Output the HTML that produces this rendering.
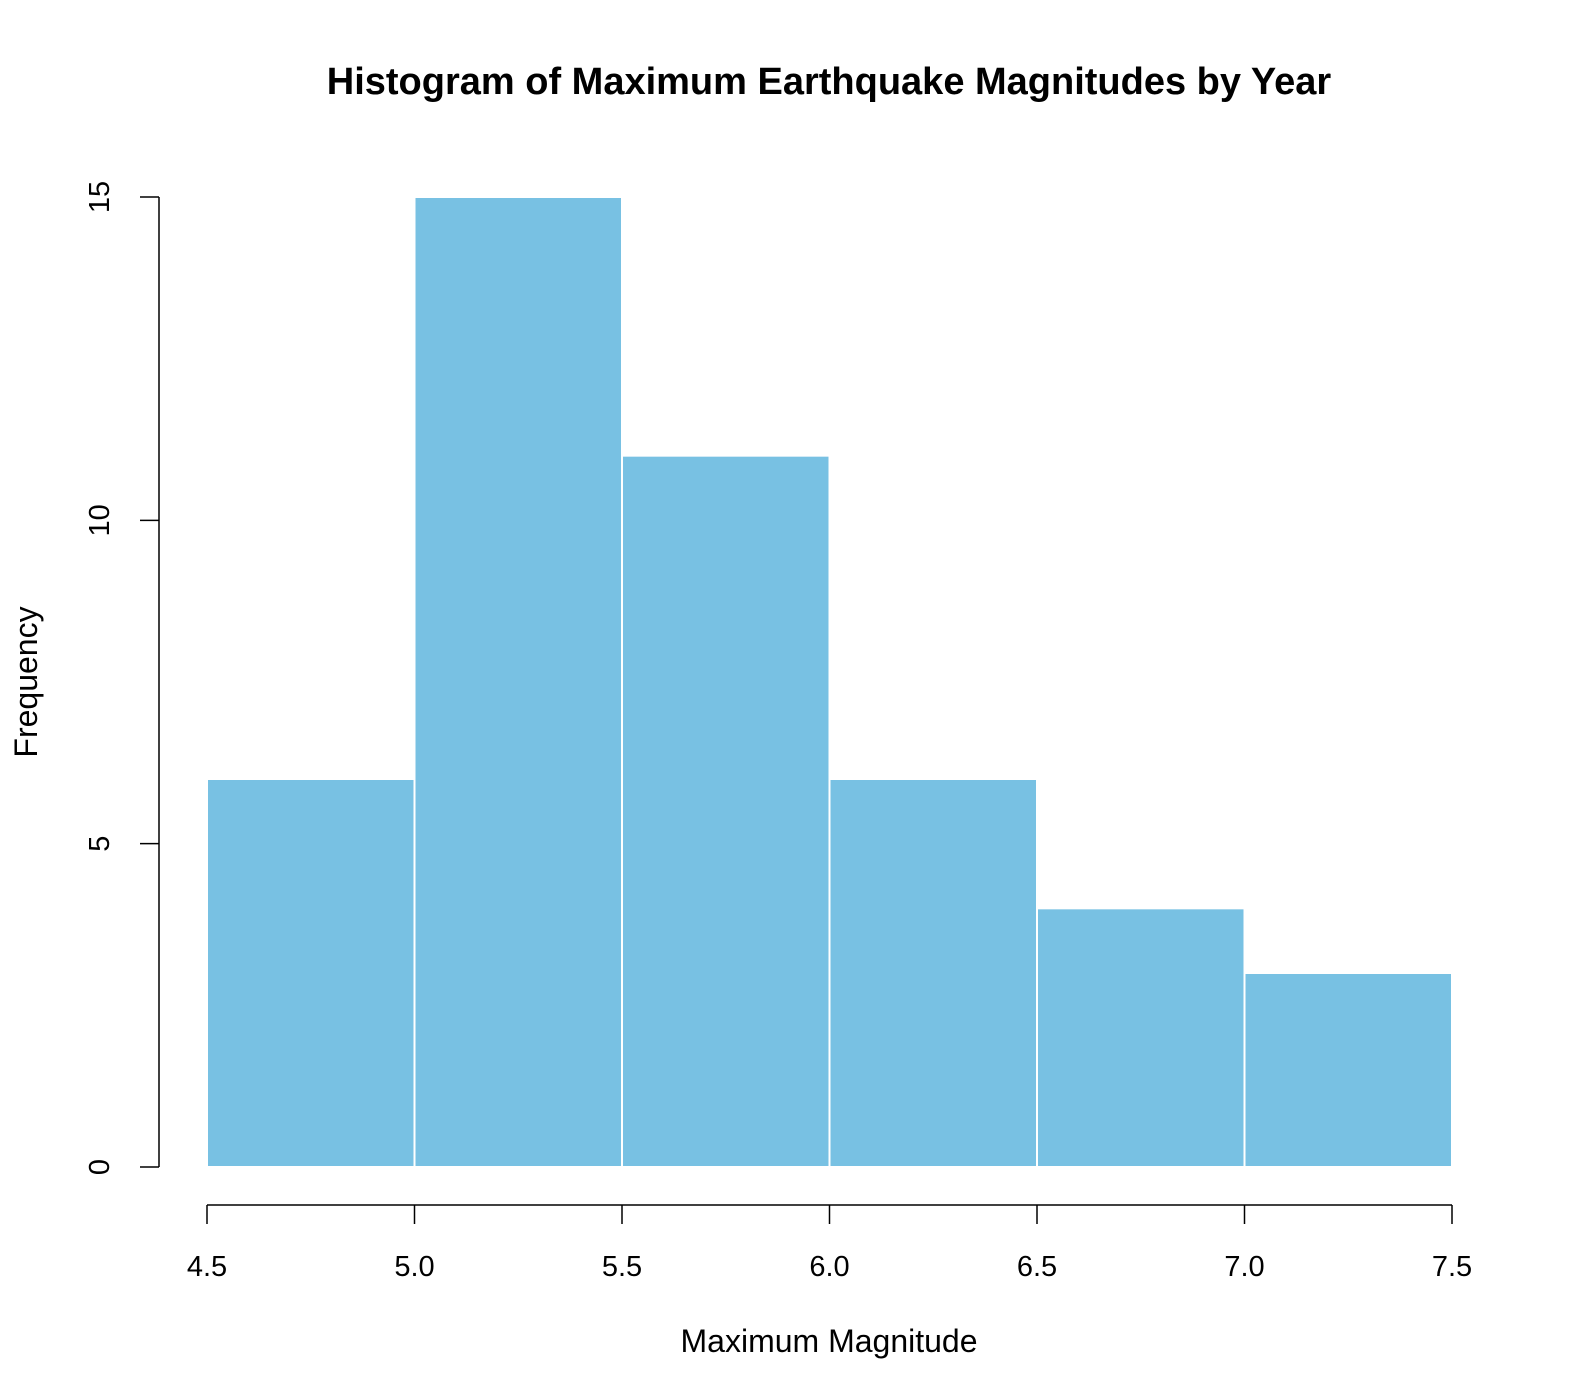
<!DOCTYPE html>
<html><head><meta charset="utf-8"><style>
html,body{margin:0;padding:0;background:#fff;}
svg{display:block;font-family:"Liberation Sans",Arial,sans-serif;}
</style></head><body>
<svg id="chart" width="1582" height="1400">
<text x="829" y="94" text-anchor="middle" font-size="38" font-weight="bold">Histogram of Maximum Earthquake Magnitudes by Year</text>
<text x="829" y="1352" text-anchor="middle" font-size="32">Maximum Magnitude</text>
<text transform="translate(37,682) rotate(-90)" text-anchor="middle" font-size="32">Frequency</text>
<g id="bars"></g><g id="xaxis"></g><g id="yaxis"></g>
</svg>
<script>
const binEdges = [4.5, 5.0, 5.5, 6.0, 6.5, 7.0, 7.5];
const counts = [6, 15, 11, 6, 4, 3];
const xTicks = [4.5, 5.0, 5.5, 6.0, 6.5, 7.0, 7.5];
const xTickLabels = ["4.5", "5.0", "5.5", "6.0", "6.5", "7.0", "7.5"];
const yTicks = [0, 5, 10, 15];
const yTickLabels = ["0", "5", "10", "15"];

const NS = "http://www.w3.org/2000/svg";
function xs(v){ return 207 + (v - 4.5) * (1452 - 207) / 3; }
function ys(v){ return 1167 - v * (1167 - 197) / 15; }
function mk(tag, attrs, parent){ const e = document.createElementNS(NS, tag); for (const k in attrs) e.setAttribute(k, attrs[k]); parent.appendChild(e); return e; }

const bars = document.getElementById('bars');
counts.forEach((c, i) => {
  const x0 = xs(binEdges[i]), x1 = xs(binEdges[i+1]);
  const r = mk('rect', {x: x0, y: ys(c), width: x1 - x0, height: ys(0) - ys(c), fill: '#78c1e3', stroke: '#ffffff', 'stroke-width': 2}, bars);
  
  
});

const xa = document.getElementById('xaxis');


mk('line', {x1: xs(xTicks[0]), x2: xs(xTicks[xTicks.length-1]), y1: 1205, y2: 1205, stroke: '#000', 'stroke-width': 1.5}, xa);
xTicks.forEach((t, i) => {
  mk('line', {x1: xs(t), x2: xs(t), y1: 1205, y2: 1224, stroke: '#000', 'stroke-width': 1.5}, xa);
  const tx = mk('text', {x: xs(t), y: 1276, 'text-anchor': 'middle', 'font-size': 29}, xa);
  tx.textContent = xTickLabels[i];
  
  
});

const ya = document.getElementById('yaxis');


mk('line', {x1: 159, x2: 159, y1: ys(yTicks[0]), y2: ys(yTicks[yTicks.length-1]), stroke: '#000', 'stroke-width': 1.5}, ya);
yTicks.forEach((t, i) => {
  mk('line', {x1: 140, x2: 159, y1: ys(t), y2: ys(t), stroke: '#000', 'stroke-width': 1.5}, ya);
  const tx = mk('text', {transform: 'translate(109,' + ys(t) + ') rotate(-90)', 'text-anchor': 'middle', 'font-size': 29}, ya);
  tx.textContent = yTickLabels[i];
  
  
});
</script>
</body></html>
